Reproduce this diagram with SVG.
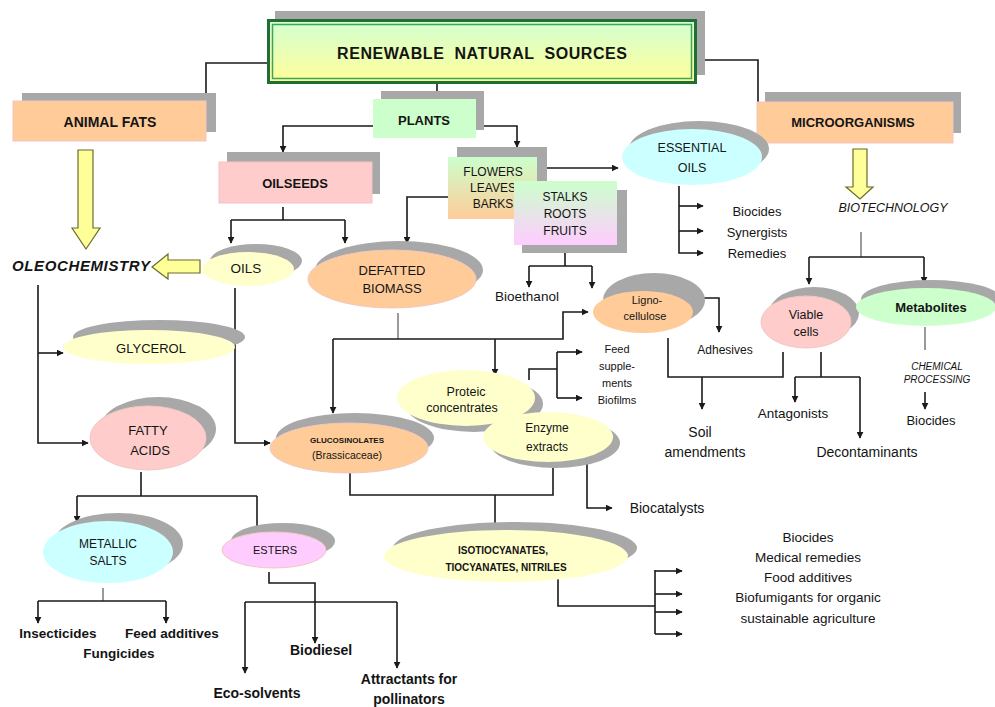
<svg xmlns="http://www.w3.org/2000/svg" width="995" height="707" viewBox="0 0 995 707">
<style>
text{font-family:"Liberation Sans",Arial,sans-serif;fill:#141414;text-anchor:middle}
.b{font-weight:bold}
.i{font-style:italic}
.sh{fill:#a8a8a8}
.c{fill:none;stroke:#1a1a1a;stroke-width:1.6}
.g{fill:none;stroke:#9a9a9a;stroke-width:2}
.ar{stroke:none}
.ya{fill:#FFFF99;stroke:#6b6b2a;stroke-width:1.2}
.bx{stroke:#f2c4c4;stroke-width:1}
.el{stroke:#f0c8c0;stroke-width:1}
</style>
<defs>
<marker id="a" viewBox="0 0 10 10" refX="9" refY="5" markerWidth="7" markerHeight="7" markerUnits="userSpaceOnUse" orient="auto"><path d="M0,0 L10,5 L0,10 z" fill="#1a1a1a"/></marker>
<linearGradient id="gt" x1="0" y1="0" x2="0" y2="1"><stop offset="0" stop-color="#D2FFD2"/><stop offset="1" stop-color="#FFFF99"/></linearGradient>
<linearGradient id="gf" x1="0" y1="0" x2="0" y2="1"><stop offset="0" stop-color="#CCFFCC"/><stop offset="1" stop-color="#FFCC99"/></linearGradient>
<linearGradient id="gs" x1="0" y1="0" x2="0" y2="1"><stop offset="0" stop-color="#CCFFCC"/><stop offset="1" stop-color="#FFCCFF"/></linearGradient>
</defs>
<rect width="995" height="707" fill="#ffffff"/>

<g id="connectors">
<path class="c" d="M267,63 H206 V101"/>
<path class="c" d="M437,84 V92"/>
<path class="c" d="M697,60 H758 V102"/>
<path class="c" d="M373,126 H283 V152" marker-end="url(#a)"/>
<path class="c" d="M476,126 H517 V147" marker-end="url(#a)"/>
<path class="c" d="M283,207 V220 M231,220 H345"/>
<path class="c" d="M231,220 V243" marker-end="url(#a)"/>
<path class="c" d="M345,220 V243" marker-end="url(#a)"/>
<path class="c" d="M448,197 H407 V243" marker-end="url(#a)"/>
<path class="c" d="M538,168 H618" marker-end="url(#a)"/>
<path class="c" d="M565,245 V266 M529,266 H592"/>
<path class="c" d="M529,266 V287" marker-end="url(#a)"/>
<path class="c" d="M592,266 V288" marker-end="url(#a)"/>
<path class="c" d="M679,186 V253 H703" marker-end="url(#a)"/>
<path class="c" d="M679,206 H703" marker-end="url(#a)"/>
<path class="c" d="M679,231 H703" marker-end="url(#a)"/>
<path class="g" d="M861,232 V257"/>
<path class="c" d="M809,257 H924"/>
<path class="c" d="M809,257 V284" marker-end="url(#a)"/>
<path class="c" d="M924,257 V283" marker-end="url(#a)"/>
<path class="g" d="M925,327 V350"/>
<path class="c" d="M925,392 V409" marker-end="url(#a)"/>
<path class="c" d="M821,352 V377 M795,377 H860"/>
<path class="c" d="M795,377 V402" marker-end="url(#a)"/>
<path class="c" d="M860,377 V438" marker-end="url(#a)"/>
<path class="c" d="M668,338 V377 H783 V352"/>
<path class="c" d="M702,377 V409" marker-end="url(#a)"/>
<path class="c" d="M693,298 H719 V332" marker-end="url(#a)"/>
<path class="g" d="M398,313 V339"/>
<path class="c" d="M333,339 H563 V312 H588" marker-end="url(#a)"/>
<path class="c" d="M333,339 V413" marker-end="url(#a)"/>
<path class="c" d="M495,339 V375" marker-end="url(#a)"/>
<path class="c" d="M529,380 V369 H557"/>
<path class="c" d="M557,352 V398"/>
<path class="c" d="M557,352 H582" marker-end="url(#a)"/>
<path class="c" d="M557,398 H582" marker-end="url(#a)"/>
<path class="c" d="M553,468 V495 H350 V473"/>
<path class="c" d="M495,495 V532" marker-end="url(#a)"/>
<path class="c" d="M587,462 V508 H612" marker-end="url(#a)"/>
<path class="c" d="M235,288 V443 H270" marker-end="url(#a)"/>
<path class="c" d="M38,285 V443 H88" marker-end="url(#a)"/>
<path class="c" d="M38,353 H63" marker-end="url(#a)"/>
<path class="c" d="M141,472 V496 M77,496 H257"/>
<path class="c" d="M77,496 V522" marker-end="url(#a)"/>
<path class="c" d="M257,496 V532" marker-end="url(#a)"/>
<path class="g" d="M103,588 V601"/>
<path class="c" d="M38,601 H166"/>
<path class="c" d="M38,601 V623" marker-end="url(#a)"/>
<path class="c" d="M166,601 V623" marker-end="url(#a)"/>
<path class="c" d="M269,572 V583 H315 V643" marker-end="url(#a)"/>
<path class="c" d="M245,602 H397"/>
<path class="c" d="M245,602 V673" marker-end="url(#a)"/>
<path class="c" d="M397,602 V668" marker-end="url(#a)"/>
<path class="c" d="M558,577 V606 H655 M655,570 V634"/>
<path class="c" d="M655,571 H682" marker-end="url(#a)"/>
<path class="c" d="M655,594 H682" marker-end="url(#a)"/>
<path class="c" d="M655,612 H682" marker-end="url(#a)"/>
<path class="c" d="M655,634 H682" marker-end="url(#a)"/>
<polygon class="ya" points="78,150 93,150 93,228 100,228 86,249 72,228 78,228"/>
<polygon class="ya" points="200,260 168,260 168,254 152,267 168,279 168,273 200,273"/>
<polygon class="ya" points="853,149 867,149 867,187 873,187 860,199 846,187 853,187"/>
</g>

<g id="title">
<rect class="sh" x="275" y="11" width="430" height="64"/>
<rect x="268.5" y="20.5" width="427" height="62" fill="url(#gt)" stroke="#1F6E36" stroke-width="3"/>
<rect x="272.5" y="24.5" width="419" height="54" fill="none" stroke="#3FA35A" stroke-width="1.5"/>
<text class="b" x="482" y="59" font-size="16" textLength="290" xml:space="preserve">RENEWABLE  NATURAL  SOURCES</text>
</g>

<g id="animal-fats">
<rect class="sh" x="22" y="93" width="194" height="39"/>
<rect class="bx" x="13" y="101" width="193" height="40" fill="#FFCC99"/>
<text class="b" x="110" y="127" font-size="14">ANIMAL FATS</text>
</g>

<g id="plants">
<rect class="sh" x="381" y="91" width="103" height="39"/>
<rect x="373" y="99" width="103" height="39" fill="#CCFFCC"/>
<text class="b" x="424" y="124.5" font-size="13">PLANTS</text>
</g>

<g id="microorganisms">
<rect class="sh" x="765" y="92" width="196" height="41"/>
<rect class="bx" x="757" y="102" width="196" height="41" fill="#FFCC99"/>
<text class="b" x="853" y="126.5" font-size="13">MICROORGANISMS</text>
</g>

<g id="oilseeds">
<rect class="sh" x="227" y="152" width="153" height="42"/>
<rect class="bx" x="219" y="162" width="153" height="41" fill="#FFCCCC"/>
<text class="b" x="295" y="187.5" font-size="13">OILSEEDS</text>
</g>

<g id="flowers">
<rect class="sh" x="457" y="147" width="90" height="61"/>
<rect x="448" y="157" width="89" height="62" fill="url(#gf)"/>
<text x="493" y="176" font-size="12">FLOWERS</text>
<text x="493" y="192" font-size="12">LEAVES</text>
<text x="493" y="208" font-size="12">BARKS</text>
</g>

<g id="stalks">
<rect class="sh" x="522" y="190" width="105" height="63"/>
<rect x="514" y="181" width="103" height="64" fill="url(#gs)"/>
<text x="565" y="201" font-size="12">STALKS</text>
<text x="565" y="218" font-size="12">ROOTS</text>
<text x="565" y="235" font-size="12">FRUITS</text>
</g>

<g id="essential-oils">
<ellipse class="sh" cx="699" cy="149" rx="70" ry="28"/>
<ellipse cx="692" cy="157" rx="70" ry="28" fill="#CCFFFF"/>
<text x="692" y="152.4" font-size="12.5">ESSENTIAL</text>
<text x="692" y="172.4" font-size="12.5">OILS</text>
</g>

<g id="eo-products">
<text x="757" y="215.5" font-size="13">Biocides</text>
<text x="757" y="236.5" font-size="13">Synergists</text>
<text x="757" y="257.5" font-size="13">Remedies</text>
</g>

<g id="biotechnology">
<text class="i" x="893" y="212.4" font-size="12.5">BIOTECHNOLOGY</text>
</g>

<g id="bioethanol">
<text x="527" y="300.7" font-size="13.5">Bioethanol</text>
</g>

<g id="defatted-biomass">
<ellipse class="sh" cx="399" cy="270" rx="84" ry="29"/>
<ellipse class="el" cx="392" cy="279" rx="84" ry="29" fill="#FFCC99"/>
<text x="392" y="274.5" font-size="13">DEFATTED</text>
<text x="392" y="292.5" font-size="13">BIOMASS</text>
</g>

<g id="oils">
<ellipse class="sh" cx="256" cy="261" rx="46" ry="17"/>
<ellipse cx="248" cy="269" rx="46" ry="17" fill="#FFFFCC"/>
<text x="246" y="272.7" font-size="13.5">OILS</text>
</g>

<g id="oleochemistry">
<text class="b i" x="81" y="271" font-size="15" textLength="138">OLEOCHEMISTRY</text>
</g>

<g id="glycerol">
<ellipse class="sh" cx="159" cy="337" rx="86" ry="17"/>
<ellipse cx="149" cy="347" rx="86" ry="17" fill="#FFFFCC"/>
<text x="151" y="352.5" font-size="13">GLYCEROL</text>
</g>

<g id="lignocellulose">
<ellipse class="sh" cx="654" cy="300" rx="51" ry="27"/>
<ellipse cx="643" cy="312" rx="50" ry="21" fill="#FFCC99"/>
<text x="647" y="303.9" font-size="11">Ligno-</text>
<text x="645" y="319.9" font-size="11">cellulose</text>
</g>

<g id="adhesives">
<text x="725" y="354.2" font-size="12">Adhesives</text>
</g>

<g id="viable-cells">
<ellipse class="sh" cx="814" cy="313" rx="45" ry="26"/>
<ellipse class="el" cx="806" cy="322" rx="45" ry="26" fill="#FFCCCC"/>
<text x="806" y="319.4" font-size="12.5">Viable</text>
<text x="806" y="336.4" font-size="12.5">cells</text>
</g>

<g id="metabolites">
<ellipse class="sh" cx="931" cy="299" rx="70" ry="19"/>
<ellipse cx="926" cy="307" rx="70" ry="19" fill="#CCFFCC"/>
<text class="b" x="931" y="311.5" font-size="13">Metabolites</text>
</g>

<g id="chemical-processing">
<text class="i" x="937" y="369.5" font-size="10">CHEMICAL</text>
<text class="i" x="937" y="382.5" font-size="10">PROCESSING</text>
<text x="931" y="424.5" font-size="13">Biocides</text>
</g>

<g id="antagonists"><text x="793" y="417.7" font-size="13.5">Antagonists</text></g>
<g id="decontaminants"><text x="867" y="456.9" font-size="14">Decontaminants</text></g>
<g id="soil-amendments">
<text x="700" y="436.9" font-size="14">Soil</text>
<text x="705" y="456.9" font-size="14">amendments</text>
</g>

<g id="feed-biofilms">
<text x="617" y="352.9" font-size="11">Feed</text>
<text x="617" y="369.9" font-size="11">supple-</text>
<text x="617" y="386.9" font-size="11">ments</text>
<text x="617" y="403.9" font-size="11">Biofilms</text>
</g>

<g id="proteic">
<ellipse class="sh" cx="474" cy="404" rx="69" ry="28"/>
<ellipse cx="466" cy="398" rx="69" ry="28" fill="#FFFFCC"/>
<text x="466" y="396.4" font-size="12.5">Proteic</text>
<text x="462" y="412.4" font-size="12.5">concentrates</text>
</g>

<g id="enzyme">
<ellipse class="sh" cx="555" cy="443" rx="65" ry="25"/>
<ellipse cx="548" cy="437" rx="65" ry="25" fill="#FFFFCC"/>
<text x="547" y="432.2" font-size="12">Enzyme</text>
<text x="547" y="451.2" font-size="12">extracts</text>
</g>

<g id="biocatalysts"><text x="667" y="512.9" font-size="14">Biocatalysts</text></g>

<g id="glucosinolates">
<ellipse class="sh" cx="355" cy="438" rx="79" ry="25"/>
<ellipse class="el" cx="349" cy="448" rx="79" ry="25" fill="#FFCC99"/>
<text class="b" x="347" y="442.8" font-size="8">GLUCOSINOLATES</text>
<text x="347" y="458.7" font-size="10.5">(Brassicaceae)</text>
</g>

<g id="fatty-acids">
<ellipse class="sh" cx="158" cy="429" rx="58" ry="32"/>
<ellipse class="el" cx="148" cy="438" rx="58" ry="32" fill="#FFCCCC"/>
<text x="148" y="434.5" font-size="13">FATTY</text>
<text x="150" y="454.5" font-size="13">ACIDS</text>
</g>

<g id="metallic-salts">
<ellipse class="sh" cx="118" cy="544" rx="65" ry="31"/>
<ellipse cx="108" cy="552" rx="65" ry="31" fill="#CCFFFF"/>
<text x="108" y="548.2" font-size="12">METALLIC</text>
<text x="108" y="565.2" font-size="12">SALTS</text>
</g>

<g id="esters">
<ellipse class="sh" cx="283" cy="541" rx="52" ry="18"/>
<ellipse class="el" cx="274" cy="550" rx="52" ry="18" fill="#FFCCFF"/>
<text x="275" y="553.9" font-size="11">ESTERS</text>
</g>

<g id="isotiocyanates">
<ellipse class="sh" cx="515" cy="548" rx="122" ry="26"/>
<ellipse cx="506" cy="556" rx="122" ry="26" fill="#FFFFCC"/>
<text class="b" x="503" y="553.5" font-size="10">ISOTIOCYANATES,</text>
<text class="b" x="506" y="570.5" font-size="10">TIOCYANATES, NITRILES</text>
</g>

<g id="iso-products">
<text x="808" y="541.7" font-size="13.5">Biocides</text>
<text x="808" y="561.7" font-size="13.5">Medical remedies</text>
<text x="808" y="581.7" font-size="13.5">Food additives</text>
<text x="808" y="601.7" font-size="13.5">Biofumigants for organic</text>
<text x="808" y="622.7" font-size="13.5">sustainable agriculture</text>
</g>

<g id="salts-products">
<text class="b" x="58" y="637.7" font-size="13.5">Insecticides</text>
<text class="b" x="172" y="637.7" font-size="13.5">Feed additives</text>
<text class="b" x="119" y="657.7" font-size="13.5">Fungicides</text>
</g>

<g id="esters-products">
<text class="b" x="321" y="654.9" font-size="14">Biodiesel</text>
<text class="b" x="257" y="697.9" font-size="14">Eco-solvents</text>
<text class="b" x="409" y="683.9" font-size="14">Attractants for</text>
<text class="b" x="409" y="703.9" font-size="14">pollinators</text>
</g>
</svg>
